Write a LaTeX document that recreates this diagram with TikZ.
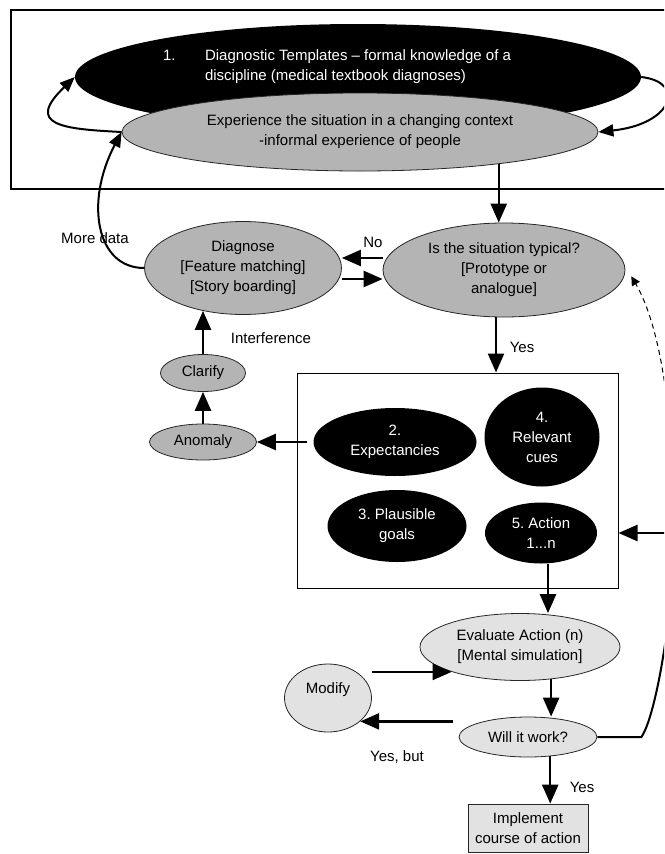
\documentclass[tikz,border=0pt]{standalone}
\usepackage{fontspec}
\setmainfont{Liberation Sans}
\usepackage{tikz}
\usetikzlibrary{shapes.geometric}
\usetikzlibrary{arrows.meta}
\usetikzlibrary{positioning}
\usetikzlibrary{calc}
\frenchspacing
\definecolor{darkfill}{HTML}{B4B4B4}
\definecolor{lightfill}{HTML}{E2E2E2}
\tikzset{greyoval/.style={ellipse, draw=black!85, line width=0.8pt, fill=darkfill, inner sep=0pt, align=center},
         lightoval/.style={ellipse, draw=black!85, line width=0.8pt, fill=lightfill, inner sep=0pt, align=center},
         blackoval/.style={ellipse, fill=black, text=white, inner sep=0pt, align=center},
         framebox/.style={rectangle, draw=black, line width=1.2pt, inner sep=0pt},
         bigarrow/.style={line width=2.5pt, -{Triangle[length=19pt,width=16pt]}},
         arcarrow/.style={line width=2pt, -{Triangle[length=15pt,width=12pt]}},
         dasharrow/.style={line width=1pt, dash pattern=on 5pt off 4pt, -{Triangle[length=9pt,width=9pt]}}
}

\begin{document}
\begin{tikzpicture}[x=1pt, y=-1pt, font=\fontsize{15}{20}\selectfont]
				\useasboundingbox (0,0) rectangle (664,854);
				\clip (0,0) rectangle (664,854);
				\node[framebox, minimum width=689pt, minimum height=179pt] (TopFrame) at (355.5,99.5) {};
				\node[blackoval, minimum width=566pt, minimum height=106pt] (Templates) at (358,77) {};
				\node[text=white, align=left, anchor=west, inner sep=0pt] (TemplatesText) at ($(Templates.west)+(88,-10)$) {\makebox[42pt][l]{1.}Diagnostic Templates -- formal knowledge of a\\\hspace*{42pt}discipline (medical textbook diagnoses)};
				\node[greyoval, minimum width=476pt, minimum height=78pt] (Experience) at (360,132) {Experience the situation in a changing context\\-informal experience of people};
				\node[greyoval, minimum width=197pt, minimum height=93pt] (Diagnose) at (243,268) {Diagnose\\{[}Feature matching{]}\\{[}Story boarding{]}};
				\node[greyoval, minimum width=242pt, minimum height=94pt] (Typical) at (504,270) {Is the situation typical?\\{[}Prototype or\\analogue{]}};
				\node[greyoval, minimum width=85pt, minimum height=37pt] (Clarify) at (203,373) {Clarify};
				\node[greyoval, minimum width=107pt, minimum height=36pt] (Anomaly) at (203,442) {Anomaly};
				\node[framebox, line width=1pt, minimum width=321pt, minimum height=215pt] (Frame) at (457.5,480.5) {};
				\node[blackoval, minimum width=163pt, minimum height=68pt] (Expect) at (395,442) {2.\\Expectancies};
				\node[blackoval, minimum width=115pt, minimum height=99pt] (Cues) at (542,437) {4.\\Relevant\\cues};
				\node[blackoval, minimum width=139pt, minimum height=72pt] (Goals) at (397,526) {3. Plausible\\goals};
				\node[blackoval, minimum width=112pt, minimum height=61pt] (Action) at (541,533) {5. Action\\1...n};
				\node[lightoval, minimum width=200pt, minimum height=67pt] (Evaluate) at (520,647) {Evaluate Action (n)\\{[}Mental simulation{]}};
				\node[lightoval, minimum width=87pt, minimum height=68pt] (Modify) at (328,698) {Modify\\\mbox{}};
				\node[lightoval, minimum width=138pt, minimum height=40pt] (Will) at (528,737) {Will it work?};
				\node[rectangle, draw=black!85, line width=0.8pt, fill=lightfill, minimum width=120pt, minimum height=48pt, align=center] (Implement) at (528,828) {Implement\\course of action};
				\node[] (MoreData) at (95,238) {More data};
				\node[] (No) at (373,242) {No};
				\node[] (Interference) at (271,338) {Interference};
				\node[] (YesTypical) at (522,347) {Yes};
				\node[] (YesBut) at (397,757) {Yes, but};
				\node[] (YesWill) at (582,787) {Yes};
				\coordinate (OffWill) at (672,560);
				\coordinate (OffDash) at (672,480);
				\coordinate (OffBox) at (680,533);
				\draw[arcarrow] (Experience.west) .. controls +(-60,-3) and +(-50,48) .. (Templates.west);
				\draw[arcarrow] (Templates.east) .. controls +(45,5) and +(75,-8) .. (Experience.east);
				\draw[arcarrow] (Diagnose.west) .. controls +(-48,0) and +(-37,70) .. (Experience.west);
				\draw[bigarrow] (Experience.-13) -- (Experience.-13 |- Typical.north);
				\draw[bigarrow] ([yshift=12pt]Typical.west) -- ([yshift=12pt]Typical.west -| Diagnose.east);
				\draw[bigarrow] ([yshift=-11pt]Diagnose.east) -- ([yshift=-11pt]Diagnose.east -| Typical.west);
				\draw[bigarrow] ([xshift=-8pt]Typical.south) -- ([xshift=-8pt]Typical.south |- Frame.north);
				\draw[bigarrow] ([xshift=-6pt]Expect.west) -- (Anomaly.east);
				\draw[bigarrow] (Anomaly.north) -- (Clarify.south);
				\draw[bigarrow] (Clarify.north) -- (Clarify.north |- Diagnose.-133);
				\draw[bigarrow] ([xshift=7pt]Action.south) -- ([xshift=7pt]Action.south |- Evaluate.north);
				\draw[bigarrow] (Evaluate.-46) -- (Evaluate.-46 |- Will.north);
				\draw[bigarrow] (Modify.east |- Evaluate.200) -- (Evaluate.200);
				\draw[bigarrow] ([xshift=-6pt]Will.west |- Modify.-36) -- (Modify.-36);
				\draw[bigarrow] (Will.-41) -- (Will.-41 |- Implement.north);
				\draw[line width=2pt] (Will.east) -- ++(44,0) .. controls +(14,-20) and +(0,60) .. (OffWill);
				\draw[dasharrow] (OffDash) .. controls (670,380) and (654,315) .. ([xshift=7pt]Typical.-3);
				\draw[bigarrow] (OffBox) -- (OffBox -| Frame.east);
			\end{tikzpicture}
\end{document}
